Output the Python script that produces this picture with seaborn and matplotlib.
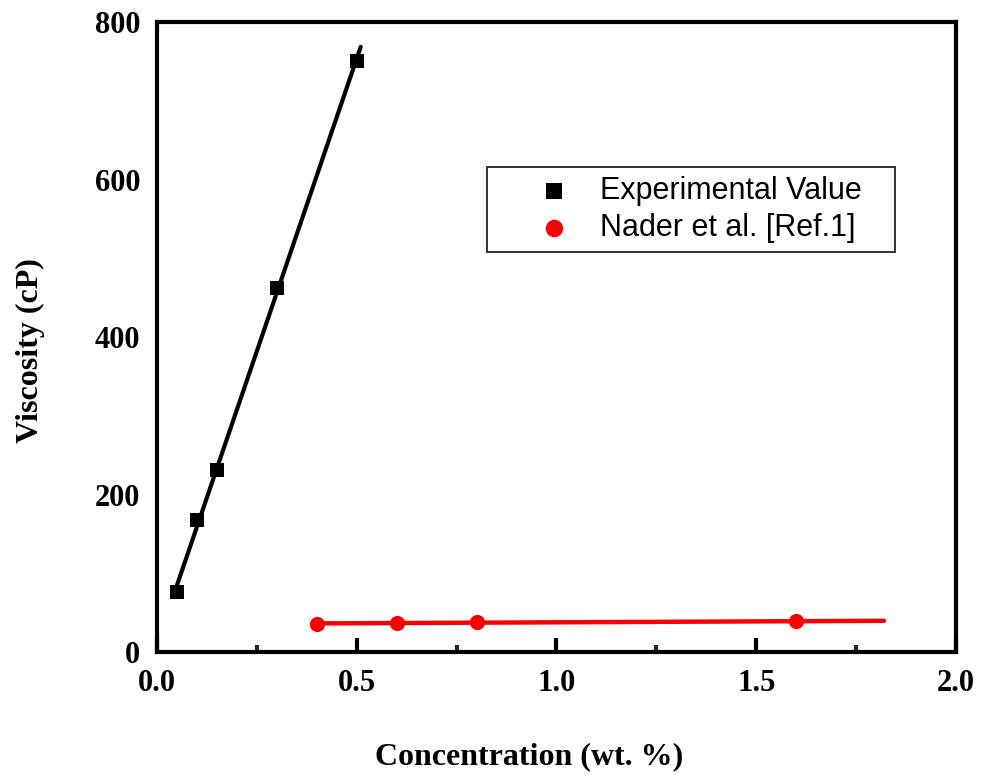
import numpy as np
import pandas as pd
import matplotlib
matplotlib.use("Agg")
import matplotlib.pyplot as plt
import seaborn as sns
from matplotlib.ticker import MultipleLocator
from matplotlib.collections import PathCollection
from matplotlib.legend_handler import HandlerPathCollection

# Measured viscosity of the solutions
exp_conc = [0.05, 0.10, 0.15, 0.30, 0.50]
exp_visc = [76, 168, 231, 462, 750]

# Literature values
ref_conc = [0.40, 0.60, 0.80, 1.60]
ref_visc = [36, 37, 37.5, 39]

exp_label = "Experimental Value"
ref_label = "Nader et al. [Ref.1]"

sns.set_theme(style="white")
plt.rcParams["font.family"] = ["Liberation Serif", "DejaVu Serif"]
plt.rcParams["text.color"] = "black"

fig = plt.figure(figsize=(9.83, 7.75), dpi=100)
ax = fig.add_axes([0.1597, 0.1587, 0.9725 - 0.1597, 0.9716 - 0.1587])

df_exp = pd.DataFrame({"c": exp_conc, "v": exp_visc})
df_ref = pd.DataFrame({"c": ref_conc, "v": ref_visc})

# Linear trend lines through each data set
p_exp = np.polyfit(exp_conc, exp_visc, 1)
p_ref = np.polyfit(ref_conc, ref_visc, 1)
xe = np.array([exp_conc[0], 0.51])
xr = np.array([ref_conc[0], 1.82])
sns.lineplot(x=xe, y=np.polyval(p_exp, xe), ax=ax, color="black", lw=3.0)
sns.lineplot(x=xr, y=np.polyval(p_ref, xr), ax=ax, color="#ff0000", lw=3.2)

sns.scatterplot(data=df_exp, x="c", y="v", ax=ax, marker="s", s=100,
                color="black", edgecolor="black", linewidth=0, label=exp_label,
                zorder=5)
sns.scatterplot(data=df_ref, x="c", y="v", ax=ax, marker="o", s=120,
                color="#ff0000", edgecolor="#ff0000", linewidth=0, label=ref_label,
                zorder=5)

ax.set_xlim(0, 2.0)
ax.set_ylim(0, 800)
ax.xaxis.set_major_locator(MultipleLocator(0.5))
ax.xaxis.set_minor_locator(MultipleLocator(0.25))
ax.yaxis.set_major_locator(MultipleLocator(200))
ax.set_xticks(ax.get_xticks())
ax.set_xticklabels([f"{v:.1f}" for v in ax.get_xticks()])
ax.set_xlim(0, 2.0)

for s in ax.spines.values():
    s.set_color("black")
    s.set_linewidth(3)

ax.tick_params(axis="x", which="major", direction="in", length=10, width=3,
               top=False, bottom=True, pad=12, labelsize=22, colors="black")
ax.tick_params(axis="x", which="minor", direction="in", length=5, width=3,
               top=False, bottom=True)
ax.tick_params(axis="y", which="major", direction="in", length=0,
               pad=12, labelsize=22, colors="black")
for lbl in ax.get_xticklabels() + ax.get_yticklabels():
    lbl.set_fontweight("bold")

ax.set_xlabel("Concentration (wt. %)", fontsize=23, fontweight="bold",
              color="black")
ax.set_ylabel("Viscosity (cP)", fontsize=23, fontweight="bold",
              color="black")
ax.xaxis.set_label_coords(0.4656, -0.143)
ax.yaxis.set_label_coords(-0.140, 0.479)

# Legend: frame spans a fixed box, markers nudged right inside their handle
legend_box = (0.413, 0.7698 - 0.2, 0.5106, 0.2)
leg = ax.legend(loc="upper left", bbox_to_anchor=legend_box, mode="expand",
                borderaxespad=0, frameon=True, fancybox=False,
                edgecolor="black",
                prop={"family": "Liberation Sans", "size": 22},
                handletextpad=0.4, borderpad=0.3, labelspacing=0.22,
                handlelength=3.0, markerscale=1.15,
                handler_map={PathCollection: HandlerPathCollection(xpad=0.8)})
leg.get_frame().set_linewidth(1.4)
for t in leg.get_texts():
    t.set_color("black")

fig.savefig("out.png", dpi=100, facecolor="white")
